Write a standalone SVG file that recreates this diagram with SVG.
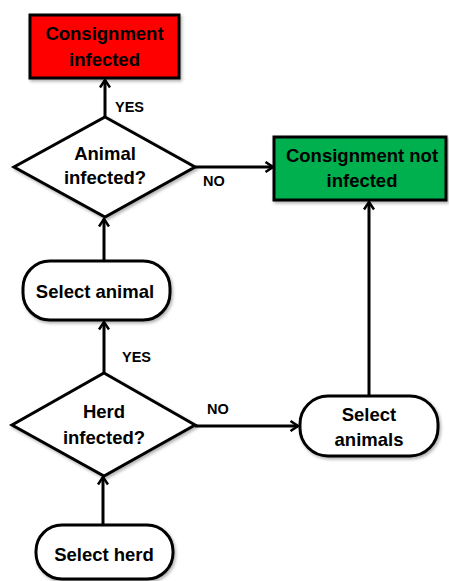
<svg xmlns="http://www.w3.org/2000/svg" width="449" height="581" viewBox="0 0 449 581">
<defs>
<style>
.shape{stroke:#000;stroke-width:3;stroke-linejoin:miter;filter:url(#sh)}
.t{font-family:"Liberation Sans",Arial,sans-serif;font-weight:bold;font-size:18.5px;text-anchor:middle;fill:#000}
.lbl{font-family:"Liberation Sans",Arial,sans-serif;font-weight:bold;font-size:14.5px;fill:#000}
.c{stroke:#000;stroke-width:3;fill:none;marker-end:url(#ah)}
</style>
<filter id="sh" x="-10%" y="-10%" width="130%" height="140%">
<feDropShadow dx="1.5" dy="2" stdDeviation="1.5" flood-color="#000" flood-opacity="0.3"/>
</filter>
<marker id="ah" viewBox="0 0 12 12" refX="10.5" refY="6" markerWidth="12" markerHeight="12" markerUnits="userSpaceOnUse" orient="auto">
<polyline points="3,1 10.5,6 3,11" fill="none" stroke="#000" stroke-width="2.5"/>
</marker>
</defs>
<rect width="449" height="581" fill="#fff"/>
<g id="connectors">
<line class="c" x1="105" y1="117" x2="105" y2="80"/>
<line class="c" x1="195" y1="167" x2="273" y2="167"/>
<line class="c" x1="104" y1="261" x2="104" y2="219"/>
<line class="c" x1="104" y1="373" x2="104" y2="322"/>
<line class="c" x1="195" y1="426" x2="298" y2="426"/>
<line class="c" x1="369" y1="396" x2="369" y2="202"/>
<line class="c" x1="103" y1="525" x2="103" y2="477"/>
<text class="lbl" x="115" y="112">YES</text>
<text class="lbl" x="203" y="186">NO</text>
<text class="lbl" x="122" y="362">YES</text>
<text class="lbl" x="207" y="414">NO</text>
</g>
<g id="consignment-infected">
<rect class="shape" x="30" y="15" width="149" height="63" fill="#ff0000"/>
<text class="t" x="104.5" y="40">Consignment</text>
<text class="t" x="104.5" y="66">infected</text>
</g>
<g id="animal-infected">
<polygon class="shape" points="105,117 195,167 105,217 14,167" fill="#fff"/>
<text class="t" x="105" y="160">Animal</text>
<text class="t" x="105" y="184">infected?</text>
</g>
<g id="consignment-not-infected">
<rect class="shape" x="274" y="137" width="172" height="63" fill="#00b050"/>
<text class="t" x="362" y="162">Consignment not</text>
<text class="t" x="362" y="187">infected</text>
</g>
<g id="select-animal">
<rect class="shape" x="23" y="261" width="147" height="59" rx="27" ry="27" fill="#fff"/>
<text class="t" x="95" y="298">Select animal</text>
</g>
<g id="herd-infected">
<polygon class="shape" points="104,373 195,425 104,476 12,425" fill="#fff"/>
<text class="t" x="104" y="418">Herd</text>
<text class="t" x="104" y="444">infected?</text>
</g>
<g id="select-animals">
<rect class="shape" x="300" y="396" width="138" height="60" rx="28" ry="28" fill="#fff"/>
<text class="t" x="369" y="421">Select</text>
<text class="t" x="369" y="446">animals</text>
</g>
<g id="select-herd">
<rect class="shape" x="36" y="525" width="137" height="54" rx="26" ry="26" fill="#fff"/>
<text class="t" x="104" y="561">Select herd</text>
</g>
</svg>
